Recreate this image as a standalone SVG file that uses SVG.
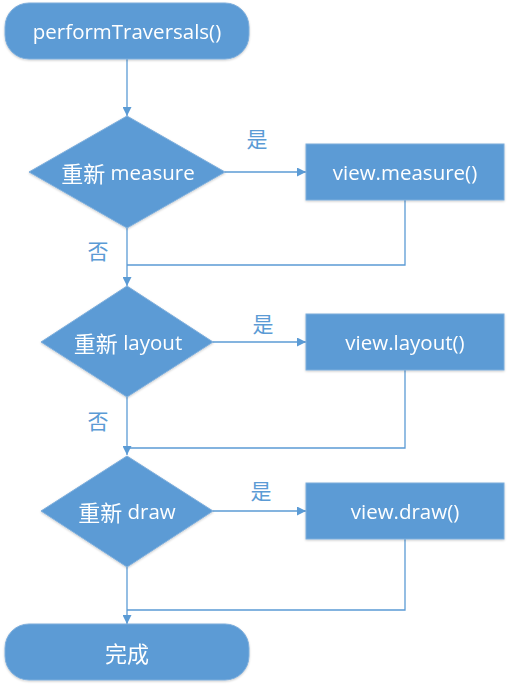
<svg xmlns="http://www.w3.org/2000/svg" width="510" height="689" viewBox="0 0 510 689">
<style>
.n{fill:#5B9BD5;stroke:#7EAEDC;stroke-width:1}
.t{fill:#fff;font-family:"Open Sans","Noto Sans CJK SC",sans-serif;font-size:20.5px;text-anchor:middle;dominant-baseline:central}
.k{font-family:"Noto Sans CJK SC",sans-serif;font-size:22px}
.l{fill:#5B9BD5;font-family:"Noto Sans CJK SC",sans-serif;font-size:21px;text-anchor:middle;dominant-baseline:central}
.c{fill:none;stroke:#5B9BD5;stroke-width:1.3}
</style>
<defs>
<marker id="a" viewBox="0 0 10 10" refX="10" refY="5" markerWidth="9" markerHeight="9" markerUnits="userSpaceOnUse" orient="auto"><path d="M0,0L10,5L0,10z" fill="#5B9BD5"/></marker>
<filter id="s" x="-10%" y="-10%" width="120%" height="130%"><feDropShadow dx="0" dy="1" stdDeviation="1.2" flood-color="#000" flood-opacity="0.2"/></filter>
</defs>
<g id="connectors">
<path class="c" d="M127,59V116" marker-end="url(#a)"/>
<path class="c" d="M225,172H306" marker-end="url(#a)"/>
<path class="c" d="M405,200V265H127"/>
<path class="c" d="M127,228V286" marker-end="url(#a)"/>
<path class="c" d="M213,342H306" marker-end="url(#a)"/>
<path class="c" d="M405,370V448H127"/>
<path class="c" d="M127,397V455" marker-end="url(#a)"/>
<path class="c" d="M213,511H306" marker-end="url(#a)"/>
<path class="c" d="M405,539V610H127"/>
<path class="c" d="M127,567V624" marker-end="url(#a)"/>
<text class="l" x="257" y="138">是</text>
<text class="l" x="98" y="250">否</text>
<text class="l" x="263" y="323">是</text>
<text class="l" x="98" y="420">否</text>
<text class="l" x="261" y="490">是</text>
</g>
<g id="start" filter="url(#s)"><rect class="n" x="5" y="3" width="244" height="56" rx="24"/><text class="t" x="127" y="31">performTraversals()</text></g>
<g id="d1" filter="url(#s)"><polygon class="n" points="127,116 225,172 127,228 29,172"/><text class="t" x="128" y="172"><tspan class="k">重新</tspan> measure</text></g>
<g id="b1" filter="url(#s)"><rect class="n" x="306" y="144" width="198" height="56"/><text class="t" x="405" y="172">view.measure()</text></g>
<g id="d2" filter="url(#s)"><polygon class="n" points="127,286 213,342 127,397 41,342"/><text class="t" x="128" y="342"><tspan class="k">重新</tspan> layout</text></g>
<g id="b2" filter="url(#s)"><rect class="n" x="306" y="314" width="198" height="56"/><text class="t" x="405" y="342">view.layout()</text></g>
<g id="d3" filter="url(#s)"><polygon class="n" points="127,456 213,511 127,567 41,511"/><text class="t" x="127" y="511"><tspan class="k">重新</tspan> draw</text></g>
<g id="b3" filter="url(#s)"><rect class="n" x="306" y="483" width="198" height="56"/><text class="t" x="405" y="511">view.draw()</text></g>
<g id="end" filter="url(#s)"><rect class="n" x="5" y="624" width="244" height="56" rx="24"/><text class="t k" x="127" y="652">完成</text></g>
</svg>
